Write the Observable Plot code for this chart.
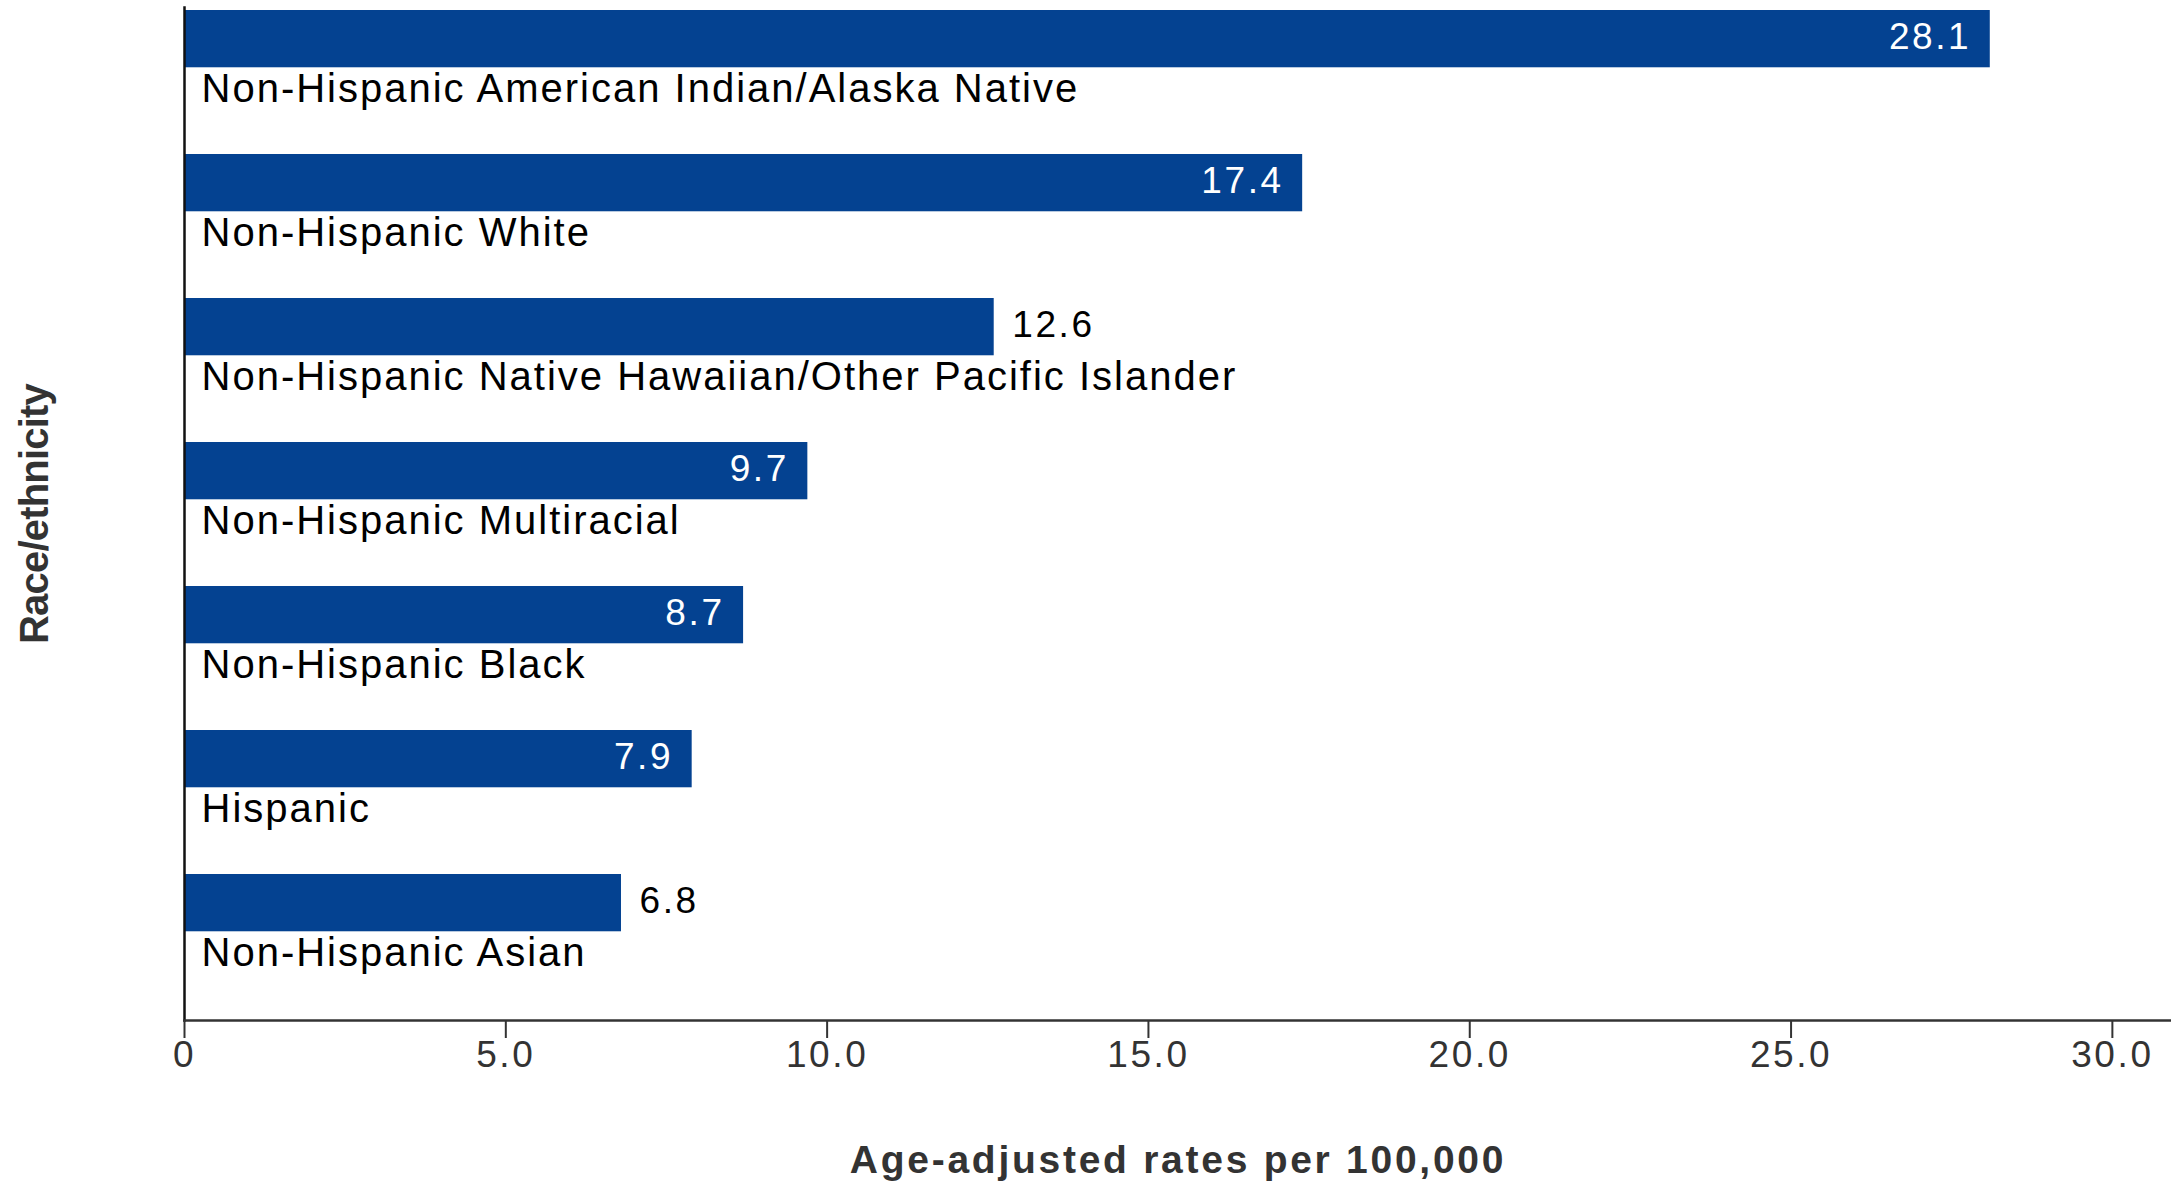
<!DOCTYPE html>
<html>
<head>
<meta charset="utf-8">
<script src="https://cdn.jsdelivr.net/npm/d3@7"></script>
<script src="https://cdn.jsdelivr.net/npm/@observablehq/plot@0.6"></script>
<style>
  html, body { margin: 0; padding: 0; background: #fff; }
  #chart svg { display: block; }
</style>
</head>
<body>
<div id="chart"></div>
<script>
const categories = [
  "Non-Hispanic American Indian/Alaska Native",
  "Non-Hispanic White",
  "Non-Hispanic Native Hawaiian/Other Pacific Islander",
  "Non-Hispanic Multiracial",
  "Non-Hispanic Black",
  "Hispanic",
  "Non-Hispanic Asian"
];
const rates = [28.1, 17.4, 12.6, 9.7, 8.7, 7.9, 6.8];
const xTicks = [0, 5, 10, 15, 20, 25, 30];
const xTitle = "Age-adjusted rates per 100,000";
const yTitle = "Race/ethnicity";

const data = categories.map((c, i) => ({category: c, rate: rates[i]}));
const outside = new Set(["Non-Hispanic Native Hawaiian/Other Pacific Islander", "Non-Hispanic Asian"]);

const W = 2171, H = 1182;
const mTop = 7, mBottom = 162, mLeft = 184, mRight = 0;
const band = (H - mTop - mBottom) / categories.length;
const barH = 58;
const barColor = "#044291";
const font = "'Liberation Sans', Arial, Helvetica, sans-serif";

const chart = Plot.plot({
  width: W,
  height: H,
  marginTop: mTop,
  marginBottom: mBottom,
  marginLeft: mLeft,
  marginRight: mRight,
  style: {fontFamily: font, background: "#fff"},
  x: {domain: [0, 30.92], axis: null},
  y: {domain: categories, padding: 0, axis: null},
  marks: [
    Plot.barX(data, {
      x: "rate", y: "category", fill: barColor,
      insetTop: 0, insetBottom: band - barH
    }),
    Plot.frame({anchor: "left", stroke: "#111", strokeWidth: 2.5}),
    Plot.frame({anchor: "bottom", stroke: "#333", strokeWidth: 2.5}),
    Plot.axisX({
      ticks: xTicks, tickSize: 18, tickPadding: 2, stroke: "#333",
      strokeWidth: 2,
      tickFormat: d => d === 0 ? "0" : d.toFixed(1),
      fontSize: 37, fill: "#333", label: null,
      className: "xticks"
    }),
    Plot.text(data, {
      x: 0, y: "category", text: "category",
      textAnchor: "start", dx: 17, dy: band / 2 - 66,
      fontSize: 40, fill: "#000", lineAnchor: "middle",
      className: "catlabels"
    }),
    Plot.text(data.filter(d => !outside.has(d.category)), {
      x: "rate", y: "category", text: d => d.rate.toFixed(1),
      textAnchor: "end", dx: -19, dy: -(band / 2 - barH / 2) - 2,
      fontSize: 37, fill: "#fff", lineAnchor: "middle",
      className: "vals"
    }),
    Plot.text(data.filter(d => outside.has(d.category)), {
      x: "rate", y: "category", text: d => d.rate.toFixed(1),
      textAnchor: "start", dx: 18, dy: -(band / 2 - barH / 2) - 2,
      fontSize: 37, fill: "#000", lineAnchor: "middle",
      className: "vals"
    }),
    Plot.text([xTitle], {
      frameAnchor: "bottom", dy: 140, text: d => d,
      fontSize: 39, fontWeight: "bold", fill: "#333", lineAnchor: "middle",
      className: "xtitle"
    }),
    Plot.text([yTitle], {
      frameAnchor: "left", dx: -149, rotate: -90, text: d => d,
      textAnchor: "middle",
      fontSize: 40, fontWeight: "bold", fill: "#333", lineAnchor: "middle",
      className: "ytitle"
    })
  ]
});

chart.querySelectorAll(".xticks text, .vals text, .xtitle text").forEach(t => t.style.letterSpacing = "0.07em");
chart.querySelectorAll(".catlabels text").forEach(t => t.style.letterSpacing = "0.05em");
chart.querySelectorAll(".ytitle text").forEach(t => { t.style.letterSpacing = "-0.02em"; });
document.getElementById("chart").appendChild(chart);
</script>
</body>
</html>
